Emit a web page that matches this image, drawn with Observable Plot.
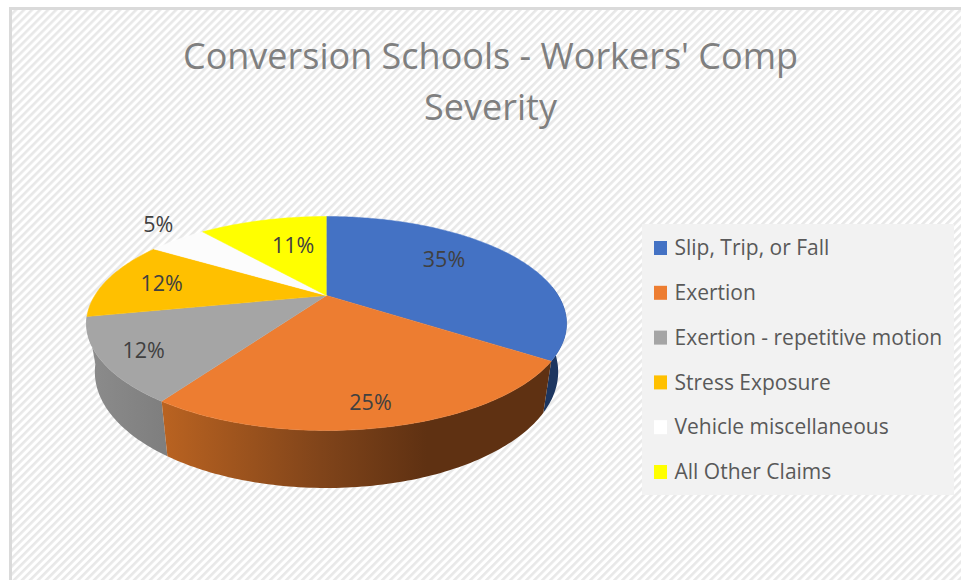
<!DOCTYPE html>
<html><head><meta charset="utf-8">
<script src="https://cdn.jsdelivr.net/npm/d3@7"></script>
<script src="https://cdn.jsdelivr.net/npm/@observablehq/plot@0.6"></script>
<style>html,body{margin:0;padding:0;background:#fff;overflow:hidden}svg{display:block}</style>
</head><body><div id="chart"></div>
<script>
// ---- data ----
const titleLines = ["Conversion Schools - Workers' Comp", "Severity"];
const categories = ["Slip, Trip, or Fall","Exertion","Exertion - repetitive motion","Stress Exposure","Vehicle miscellaneous","All Other Claims"];
const shares = [34.5, 24.9, 12.4, 12.1, 5.0, 11.1];
const colors = ["#4472c4","#ed7d31","#a5a5a5","#ffc000","#fcfcfc","#ffff00"];
const legendColors = ["#4472c4","#ed7d31","#a5a5a5","#ffc000","#ffffff","#ffff00"];

// ---- layout ----
const W = 961, H = 580;
const pie = {cx:326, cy:295, a:231.7, b:99.67, k:-0.2617, bottomX:0.965, bottomY:1.085, depth:46};
const labelRadius = [0.72,0.72,0.72,0.72,1.12,0.72];
const labelNudge = [[-18,-5],[5,21],[-28,11],[-6,1],[-4,-9],[15,8]];
const legendBox = {x1:642,x2:954,y1:224,y2:495};
const legendRows = {y0:248,step:44.8,sw1:654,sw2:667,h:7,text:674};
const textFont = "'Open Sans'";

// ---- geometry from the shares ----
const project = (deg, r=1, level=0) => {
  const t = deg*Math.PI/180, X = r*Math.sin(t), Y = -r*Math.cos(t), w = 1+pie.k*Y;
  const sx = level ? pie.bottomX : 1, sy = level ? pie.bottomY : 1;
  return [pie.cx + sx*pie.a*X/w, pie.cy + sy*pie.b*Y/w + (level?pie.depth:0)];
};
const cum = d3.cumsum(shares);
const ang = i => (i<0?0:cum[i])*3.6;
const arc = (d0,d1,level) => d3.range(0,Math.ceil(d1-d0)+1).map(i=>project(Math.min(d0+i,d1),1,level));
const toRows = (pts,name) => pts.map(([x,y])=>({x,y,name}));
const faces = categories.flatMap((name,i)=>toRows([[pie.cx,pie.cy],...arc(ang(i-1),ang(i),0)],name));
const wall = (d0,d1,name) => toRows([...arc(d0,d1,0),...arc(d0,d1,1).reverse()],name);
const blueWall = wall(85,ang(0),categories[0]);
const orangeWall = wall(ang(0),ang(1),categories[1]);
const grayWall = wall(ang(1),ang(2),categories[2]);
const labels = shares.map((v,i)=>{
  const mid=(ang(i-1)+ang(i))/2, [x,y]=project(mid,labelRadius[i]);
  return {x:x+labelNudge[i][0],y:y+labelNudge[i][1],text:Math.round(v)+"%"};
});
const legendData = categories.map((name,i)=>({name,color:legendColors[i],y:legendRows.y0+i*legendRows.step}));

const gradient = (id,stops)=>`<linearGradient id="${id}" x1="0" x2="1" y1="0" y2="0">${stops.map(([o,c])=>`<stop offset="${o}" stop-color="${c}"/>`).join("")}</linearGradient>`;
const defs = () => {
  const g = document.createElementNS("http://www.w3.org/2000/svg","defs");
  g.innerHTML = `<pattern id="hatch" width="5.66" height="5.66" patternUnits="userSpaceOnUse" patternTransform="rotate(45)">
     <rect width="5.66" height="5.66" fill="#ffffff"/><rect y="0" width="2.6" height="5.66" fill="#e8e8e8"/></pattern>`
    + gradient("orangeSide",[[0,"#ba6321"],[0.41,"#80441a"],[0.68,"#5f3112"],[1,"#5f3112"]])
    + gradient("graySide",[[0,"#8c8c8c"],[1,"#7e7e7e"]]);
  return g;
};

const chart = Plot.plot({
  width:W,height:H,margin:0,
  x:{domain:[0,W],range:[0,W],axis:null},
  y:{domain:[0,H],range:[0,H],axis:null},
  color:{domain:categories,range:colors},
  style:{background:"#fff",fontFamily:textFont},
  marks:[
    defs,
    Plot.rect([{}],{x1:()=>10.5,x2:()=>W+5,y1:()=>8.5,y2:()=>H+5,fill:"url(#hatch)",stroke:"#dadada",strokeWidth:3}),
    Plot.line(blueWall,{x:"x",y:"y",fill:"#1d3660",stroke:"none"}),
    Plot.line(grayWall,{x:"x",y:"y",fill:"url(#graySide)",stroke:"none"}),
    Plot.line(orangeWall,{x:"x",y:"y",fill:"url(#orangeSide)",stroke:"none"}),
    Plot.line(faces,{x:"x",y:"y",z:"name",fill:"name",stroke:"name",strokeWidth:0.5}),
    Plot.text(labels,{x:"x",y:"y",text:"text",fontSize:21.5,fill:"#404040",textAnchor:"middle"}),
    Plot.text(titleLines,{x:()=>490,y:(d,i)=>57+i*51,text:d=>d,fontSize:36,fill:"#7f7f7f",textAnchor:"middle"}),
    Plot.rect([legendBox],{x1:"x1",x2:"x2",y1:"y1",y2:"y2",fill:"#f2f2f2"}),
    Plot.rect(legendData,{x1:()=>legendRows.sw1,x2:()=>legendRows.sw2,y1:d=>d.y-legendRows.h,y2:d=>d.y+legendRows.h,fill:"color"}),
    Plot.text(legendData,{x:()=>legendRows.text,y:"y",text:"name",fontSize:21,fill:"#595959",textAnchor:"start"})
  ]
});
document.getElementById("chart").appendChild(chart);
</script></body></html>
